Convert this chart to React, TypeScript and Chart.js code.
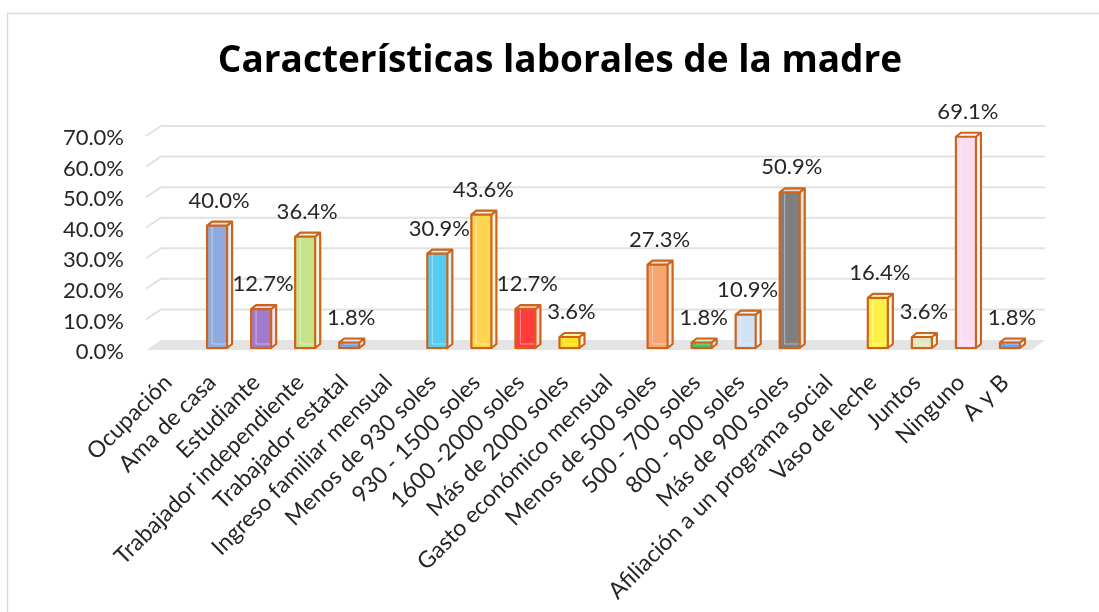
import React, { useEffect, useRef } from 'react';
import { Chart, registerables } from 'chart.js';

Chart.register(...registerables);

const categories = [
  'Ocupación',
  'Ama de casa',
  'Estudiante',
  'Trabajador independiente',
  'Trabajador estatal',
  'Ingreso familiar mensual',
  'Menos de 930 soles',
  '930 - 1500 soles',
  '1600 -2000 soles',
  'Más de 2000 soles',
  'Gasto económico mensual',
  'Menos de 500 soles',
  '500 - 700 soles',
  '800 - 900 soles',
  'Más de 900 soles',
  'Afiliación a un programa social',
  'Vaso de leche',
  'Juntos',
  'Ninguno',
  'A y B',
];

const values: (number | null)[] = [
  null, 40.0, 12.7, 36.4, 1.8,
  null, 30.9, 43.6, 12.7, 3.6,
  null, 27.3, 1.8, 10.9, 50.9,
  null, 16.4, 3.6, 69.1, 1.8,
];

const barColors = [
  '#FFFFFF', '#8FAADC', '#A27ACB', '#C5E48A', '#7F9FDB',
  '#FFFFFF', '#55CDF2', '#FFD54F', '#FF3B3B', '#FFE21A',
  '#FFFFFF', '#F6A66E', '#4CBF5E', '#CFE2F6', '#7F7F7F',
  '#FFFFFF', '#FFF046', '#E3E6BE', '#FADDF0', '#7C9CDA',
];

const yTickValues = [0, 10, 20, 30, 40, 50, 60, 70];

const TITLE = 'Características laborales de la madre';
const FONT = 'Lato, "Open Sans", sans-serif';
const TITLE_FONT = 'bold 37px "Open Sans", Lato, sans-serif';
const EDGE = '#CF631A';
const DX = 5;
const DY = 4;

function mix(hex: string, t: number) {
  const n = parseInt(hex.slice(1), 16);
  const r = (n >> 16) & 255, g = (n >> 8) & 255, b = n & 255;
  const m = (c: number) => Math.round(c + (255 - c) * t);
  return `rgb(${m(r)},${m(g)},${m(b)})`;
}

const decor = {
  id: 'decor',
  beforeDraw(chart: any) {
    const { ctx, width, height } = chart;
    ctx.save();
    ctx.fillStyle = '#FFFFFF';
    ctx.fillRect(0, 0, width, height);
    ctx.strokeStyle = '#D9D9D9';
    ctx.lineWidth = 1.5;
    ctx.beginPath();
    ctx.moveTo(7.5, height);
    ctx.lineTo(7.5, 13.5);
    ctx.lineTo(width, 13.5);
    ctx.stroke();
    ctx.font = TITLE_FONT;
    ctx.fillStyle = '#000000';
    ctx.textAlign = 'center';
    ctx.textBaseline = 'middle';
    ctx.fillText(TITLE, 560, 61);
    ctx.restore();
  },
  beforeDatasetsDraw(chart: any) {
    const { ctx, chartArea } = chart;
    const ys = chart.scales.y;
    const L = chartArea.left;
    const R = chartArea.right;
    ctx.save();
    const y0 = ys.getPixelForValue(0);
    ctx.fillStyle = '#E4E4E4';
    ctx.beginPath();
    ctx.moveTo(L - 5, y0 + 2);
    ctx.lineTo(R, y0 + 2);
    ctx.lineTo(R + 13, y0 - 8);
    ctx.lineTo(L + 10, y0 - 8);
    ctx.closePath();
    ctx.fill();
    ctx.strokeStyle = '#E2E2E2';
    ctx.lineWidth = 2;
    yTickValues.forEach((v) => {
      if (v === 0) return;
      const yy = ys.getPixelForValue(v);
      ctx.beginPath();
      ctx.moveTo(L - 5, yy + 2);
      ctx.lineTo(L + 10, yy - 8);
      ctx.lineTo(R + 13, yy - 8);
      ctx.stroke();
    });
    ctx.restore();
  },
  afterDatasetsDraw(chart: any) {
    const { ctx } = chart;
    const meta = chart.getDatasetMeta(0);
    ctx.save();
    meta.data.forEach((el: any, i: number) => {
      const v = values[i];
      if (v == null) return;
      const { x, y, base, width } = el.getProps(['x', 'y', 'base', 'width'], true);
      const l = x - width / 2;
      const r = x + width / 2;
      const col = barColors[i];
      ctx.fillStyle = mix(col, 0.78);
      ctx.beginPath();
      ctx.moveTo(r, y);
      ctx.lineTo(r + DX, y - DY);
      ctx.lineTo(r + DX, base - DY);
      ctx.lineTo(r, base);
      ctx.closePath();
      ctx.fill();
      ctx.fillStyle = mix(col, 0.7);
      ctx.beginPath();
      ctx.moveTo(l, y);
      ctx.lineTo(l + DX, y - DY);
      ctx.lineTo(r + DX, y - DY);
      ctx.lineTo(r, y);
      ctx.closePath();
      ctx.fill();
      ctx.strokeStyle = 'rgba(255,255,255,0.45)';
      ctx.lineWidth = 1;
      ctx.beginPath();
      ctx.moveTo(l + DX, y - DY + 1);
      ctx.lineTo(l + DX, base - DY);
      ctx.lineTo(r + DX - 1, base - DY);
      ctx.stroke();
      ctx.strokeStyle = EDGE;
      ctx.lineWidth = 2.2;
      ctx.lineJoin = 'round';
      ctx.beginPath();
      ctx.rect(l, y, width, base - y);
      ctx.moveTo(l, y);
      ctx.lineTo(l + DX, y - DY);
      ctx.lineTo(r + DX, y - DY);
      ctx.lineTo(r, y);
      ctx.moveTo(r + DX, y - DY);
      ctx.lineTo(r + DX, base - DY);
      ctx.lineTo(r, base);
      ctx.stroke();
    });
    ctx.font = `22px ${FONT}`;
    ctx.fillStyle = '#262626';
    ctx.textAlign = 'center';
    ctx.textBaseline = 'middle';
    meta.data.forEach((el: any, i: number) => {
      const v = values[i];
      if (v == null) return;
      ctx.fillText(v.toFixed(1) + '%', el.x + 2, el.y - 25);
    });
    ctx.restore();
  },
};

export default function App() {
  const ref = useRef<HTMLCanvasElement>(null);
  useEffect(() => {
    if (!ref.current) return;
    const chart = new Chart(ref.current, {
      type: 'bar',
      data: {
        labels: categories,
        datasets: [
          {
            data: values as any,
            backgroundColor: barColors,
            borderWidth: 0,
            categoryPercentage: 1,
            barPercentage: 0.455,
          },
        ],
      },
      options: {
        responsive: false,
        animation: false,
        layout: { padding: { left: 0, right: 67, top: 134, bottom: 0 } },
        plugins: {
          legend: { display: false },
          tooltip: { enabled: false },
          title: { display: false },
        },
        scales: {
          x: {
            grid: { display: false, drawTicks: false },
            border: { display: false },
            ticks: {
              autoSkip: false,
              maxRotation: 45,
              minRotation: 45,
              padding: 21,
              labelOffset: -5,
              color: '#262626',
              font: { family: FONT, size: 23 },
            },
            afterFit(s: any) {
              s.height = 264;
            },
          },
          y: {
            min: 0,
            max: 70,
            grid: { display: false, drawTicks: false },
            border: { display: false },
            ticks: {
              stepSize: 10,
              padding: 27,
              labelOffset: 4,
              color: '#262626',
              font: { family: FONT, size: 22 },
              callback: (v: any) => Number(v).toFixed(1) + '%',
            },
            afterFit(s: any) {
              s.width = 151;
            },
          },
        },
      },
      plugins: [decor],
    });
    return () => chart.destroy();
  }, []);
  return (
    <div style={{ position: 'fixed', left: 0, top: 0, width: 1099, height: 612 }}>
      <canvas ref={ref} width={1099} height={612} style={{ display: 'block' }} />
    </div>
  );
}
